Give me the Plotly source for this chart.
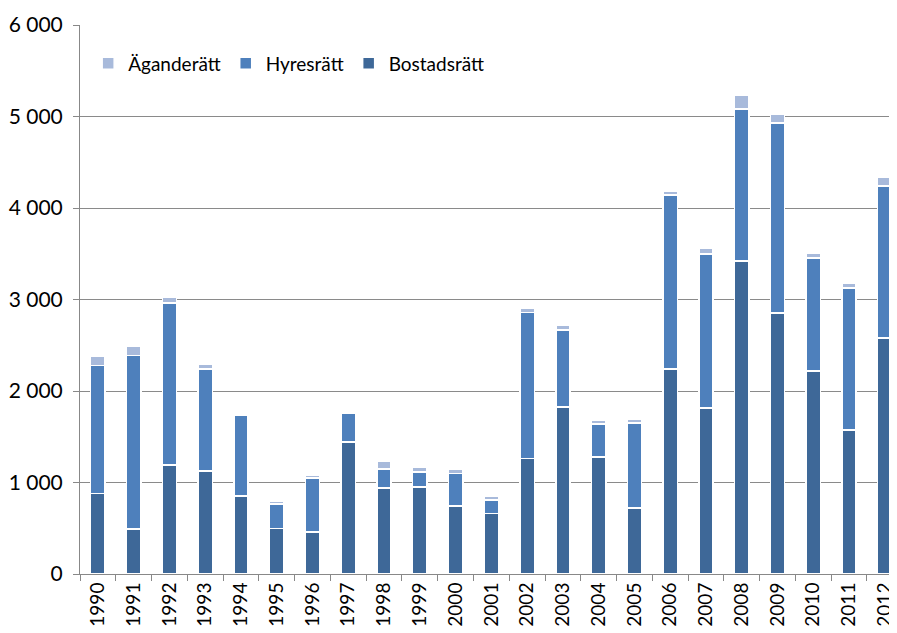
import plotly.graph_objects as go

years = [str(y) for y in range(1990, 2013)]
bostadsratt = [880, 490, 1190, 1125, 850, 500, 460, 1445, 940, 950, 745, 660, 1260, 1825, 1280, 720, 2240, 1815, 3420, 2855, 2220, 1575, 2580]
hyresratt = [1400, 1900, 1770, 1115, 890, 265, 590, 315, 205, 165, 355, 150, 1600, 840, 360, 930, 1900, 1685, 1660, 2075, 1235, 1550, 1660]
aganderatt = [105, 100, 60, 55, 0, 35, 30, 0, 85, 55, 50, 45, 45, 50, 40, 40, 45, 60, 155, 100, 55, 55, 100]

y_ticks = [0, 1000, 2000, 3000, 4000, 5000, 6000]

colors = {"B": "#3E6898", "H": "#4E80BC", "A": "#A8BADB"}
font_family = "Lato, 'Open Sans', sans-serif"

fig = go.Figure()
line = dict(color="white", width=1.5)
fig.add_trace(go.Bar(name="Bostadsrätt", x=years, y=bostadsratt, marker=dict(color=colors["B"], line=line)))
fig.add_trace(go.Bar(name="Hyresrätt", x=years, y=hyresratt, marker=dict(color=colors["H"], line=line)))
fig.add_trace(go.Bar(name="Äganderätt", x=years, y=aganderatt, marker=dict(color=colors["A"], line=line)))

fig.update_layout(
    barmode="stack",
    bargap=0.6,
    width=889, height=625,
    margin=dict(l=72, r=0, t=17, b=59, autoexpand=False),
    plot_bgcolor="white", paper_bgcolor="white",
    separators=". ",
    font=dict(family=font_family, size=19, color="#000000"),
    legend=dict(orientation="h", x=0.01, y=0.93, xanchor="left", yanchor="middle",
                traceorder="reversed", font=dict(size=19), bgcolor="rgba(0,0,0,0)",
                itemwidth=30, tracegroupgap=0),
    showlegend=True,
)
fig.update_xaxes(
    type="category",
    automargin=False,
    range=[-0.5, 22.34],
    tickangle=-90,
    showline=True, linecolor="#888888", linewidth=1,
    ticks="outside", ticklen=6, tickcolor="#888888",
    tickson="boundaries",
    showgrid=False,
    tickfont=dict(size=19),
)
fig.update_yaxes(
    automargin=False,
    range=[0, 6000],
    tickvals=y_ticks,
    tickformat=",",
    showline=True, linecolor="#888888", linewidth=1,
    ticks="outside", ticklen=6, tickcolor="#888888",
    ticklabelstandoff=6,
    showgrid=True, gridcolor="#8a8a8a", gridwidth=1,
    zeroline=False,
    tickfont=dict(size=21),
)

fig.write_html("out.html")
